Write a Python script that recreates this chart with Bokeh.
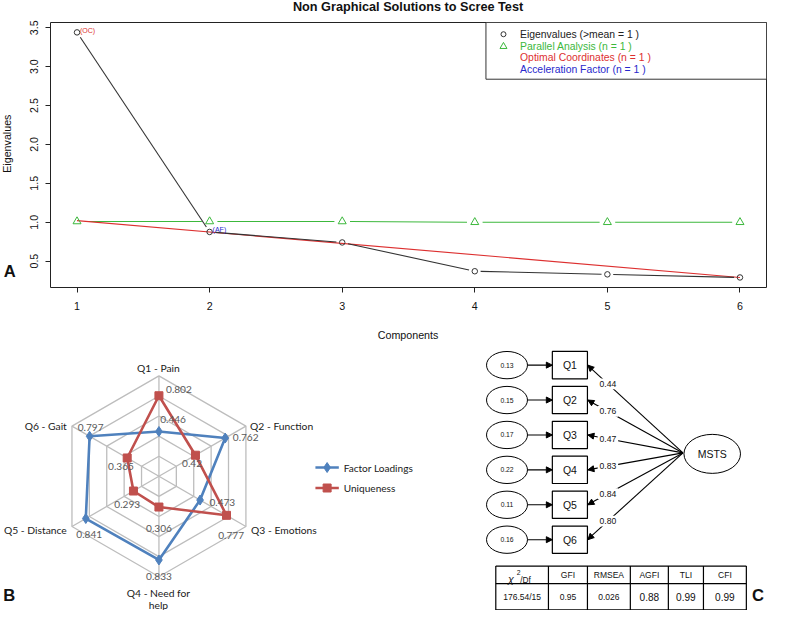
import math
from bokeh.plotting import figure
from bokeh.models import Range1d, Arrow, NormalHead, FixedTicker, NumeralTickFormatter
from bokeh.layouts import column, row
from bokeh.embed import file_html
from bokeh.resources import INLINE
from bokeh.core.properties import value

# ---------------- data ----------------
# Panel A: scree test
components = [1, 2, 3, 4, 5, 6]
eigenvalues = [3.44, 0.875, 0.74, 0.37, 0.33, 0.29]
parallel_analysis = [1.01, 1.01, 1.01, 1.00, 1.00, 1.00]
optimal_coord_x = [1, 6]
optimal_coord_y = [1.02, 0.29]
y_ticks = [0.5, 1.0, 1.5, 2.0, 2.5, 3.0, 3.5]
scree_legend = ["Eigenvalues (>mean  =  1 )", "Parallel Analysis (n =  1 )",
                "Optimal Coordinates (n =  1 )", "Acceleration Factor (n =  1 )"]

# Panel B: radar
questions = ["Q1 - Pain", "Q2 - Function", "Q3 - Emotions", "Q4 - Need for\nhelp",
             "Q5 - Distance", "Q6 - Gait"]
factor_loadings = [0.446, 0.762, 0.473, 0.833, 0.841, 0.797]
uniqueness = [0.802, 0.42, 0.777, 0.306, 0.293, 0.365]
grid_levels = [0.2, 0.4, 0.6, 0.8, 1.0]
radar_legend = ["Factor Loadings", "Uniqueness"]

# Panel C: SEM path diagram
items = ["Q1", "Q2", "Q3", "Q4", "Q5", "Q6"]
error_variances = [0.13, 0.15, 0.17, 0.22, 0.11, 0.16]
sem_loadings = [0.44, 0.76, 0.47, 0.83, 0.84, 0.80]
fit_headers = ["GFI", "RMSEA", "AGFI", "TLI", "CFI"]
fit_values = ["176.54/15", "0.95", "0.026", "0.88", "0.99", "0.99"]

S = 0.975


def fs(px):
    return f"{px * S:.1f}px"


ARIAL = value("Liberation Sans")
CAL = value("Lato")
INK = "#111111"


def blank(width, height, x0, x1, y0, y1):
    """figure whose whole canvas is the frame; y grows downwards (original pixel units)"""
    f = figure(width=width, height=height, x_range=Range1d(x0, x1),
               y_range=Range1d(y1, y0), x_axis_type=None, y_axis_type=None,
               output_backend="svg", toolbar_location=None, min_border=0)
    f.grid.visible = False
    f.outline_line_color = None
    f.background_fill_color = "white"
    f.border_fill_color = "white"
    return f


# ================= Panel A =================
TOP_H, MID_H, BOT_H = 15, 303, 28
LEFT_W = 20
y_top_end = TOP_H / S
y_mid_end = y_top_end + MID_H / S
y_bot_end = y_mid_end + BOT_H / S

title_fig = blank(771, TOP_H, 0, 771 / S, 0, y_top_end)
title_fig.text([418], [7], text=["Non Graphical Solutions to Scree Test"],
               text_align="center", text_baseline="middle", text_font=ARIAL,
               text_font_style="bold", text_font_size=fs(13), text_color=INK)

left_fig = blank(LEFT_W, MID_H, 0, LEFT_W / S, y_top_end, y_mid_end)
left_fig.text([7], [157.5], text=["Eigenvalues"], angle=math.pi / 2, text_align="center",
              text_baseline="middle", text_font=ARIAL, text_font_size=fs(11), text_color=INK)
left_fig.text([9.5], [307.5], text=["A"], text_align="center", text_baseline="middle",
              text_font=ARIAL, text_font_style="bold", text_font_size=fs(17), text_color=INK)

bottom_fig = blank(771, BOT_H, 0, 771 / S, y_mid_end, y_bot_end)
bottom_fig.text([418], [343], text=["Components"], text_align="center",
                text_baseline="middle", text_font=ARIAL, text_font_size=fs(11), text_color=INK)

X0, X1 = 0.8, 6.2
Y0, Y1 = 0.161, 3.567
PXX = (786 - 51) / (X1 - X0)
PXY = (294 - 23) / (Y1 - Y0)


def ax(X):
    return X0 + (X - 51) / PXX


def ay(Y):
    return Y1 - (Y - 23) / PXY


p1 = figure(width=771 - LEFT_W, height=MID_H, x_range=Range1d(X0, X1), y_range=Range1d(Y0, Y1),
            output_backend="svg", toolbar_location=None,
            min_border_left=30, min_border_right=5, min_border_top=7, min_border_bottom=31)
p1.grid.visible = False
p1.outline_line_color = "#222222"
p1.outline_line_width = 1
p1.background_fill_color = "white"
p1.border_fill_color = "white"
p1.xaxis.ticker = FixedTicker(ticks=components)
p1.yaxis.ticker = FixedTicker(ticks=y_ticks)
p1.yaxis.formatter = NumeralTickFormatter(format="0.0")
p1.yaxis.major_label_orientation = "vertical"
for a in (p1.xaxis, p1.yaxis):
    a.axis_line_color = None
    a.major_tick_in = 0
    a.major_tick_out = 5
    a.major_tick_line_color = "#222222"
    a.minor_tick_line_color = None
    a.major_label_text_font = "Liberation Sans"
    a.major_label_text_font_size = fs(11)
    a.major_label_text_color = INK
p1.xaxis.major_label_standoff = 9
p1.yaxis.major_label_standoff = 7


def gapped(xs, ys, gap):
    x0s, y0s, x1s, y1s = [], [], [], []
    for i in range(len(xs) - 1):
        dx = xs[i + 1] - xs[i]
        dy = ys[i + 1] - ys[i]
        L = math.hypot(dx * PXX, dy * PXY)
        if L <= 2 * gap:
            continue
        f = gap / L
        x0s.append(xs[i] + dx * f)
        y0s.append(ys[i] + dy * f)
        x1s.append(xs[i + 1] - dx * f)
        y1s.append(ys[i + 1] - dy * f)
    return x0s, y0s, x1s, y1s


GREEN = "#3cb83c"
RED = "#dd3030"
BLUE = "#2828cc"
BLACK = "#333333"

gx0, gy0, gx1, gy1 = gapped(components, parallel_analysis, 8)
p1.segment(gx0, gy0, gx1, gy1, line_color=GREEN, line_width=1.1)
p1.line(optimal_coord_x, optimal_coord_y, line_color=RED, line_width=1.1)
ex0, ey0, ex1, ey1 = gapped(components, eigenvalues, 6)
p1.segment(ex0, ey0, ex1, ey1, line_color=BLACK, line_width=1.1)
p1.scatter(components, parallel_analysis, marker="triangle", size=8, fill_color=None,
           line_color=GREEN, line_width=1)
p1.scatter(components, eigenvalues, marker="circle", size=5.5, fill_color=None,
           line_color=BLACK, line_width=1)
p1.text([components[0]], [eigenvalues[0]], text=["(OC)"], text_color=RED,
        text_font=ARIAL, text_font_size=fs(7.2), text_align="left", text_baseline="middle",
        x_offset=3, y_offset=-1.5)
p1.text([components[1]], [eigenvalues[1]], text=["(AF)"], text_color=BLUE,
        text_font=ARIAL, text_font_size=fs(7.2), text_align="left", text_baseline="middle",
        x_offset=3, y_offset=-2.5)

# legend box
p1.quad(left=[ax(498)], right=[X1], top=[Y1], bottom=[ay(81)], fill_color="white",
        line_color="#333333", line_width=1)
leg_rows = [35, 47.5, 59.3, 71]
p1.scatter([ax(516)], [ay(leg_rows[0])], marker="circle", size=5, fill_color=None,
           line_color=BLACK, line_width=1)
p1.scatter([ax(516)], [ay(leg_rows[1])], marker="triangle", size=7, fill_color=None,
           line_color=GREEN, line_width=1)
p1.text([ax(533)] * 4, [ay(r) for r in leg_rows], text=scree_legend,
        text_color=["#222222", GREEN, RED, BLUE], text_font=ARIAL, text_font_size=fs(10.7),
        text_align="left", text_baseline="middle")

# ================= Panel B =================
CX, CY, R = 162.5, 488.0, 103.0


def rx(X):
    return (X - CX) / R


def ry(Y):
    return (CY - Y) / R


p2 = figure(width=455, height=264, x_range=Range1d(rx(0), rx(466.67)),
            y_range=Range1d(ry(625.6), ry(354.9)), x_axis_type=None, y_axis_type=None,
            output_backend="svg", toolbar_location=None, min_border=0)
p2.grid.visible = False
p2.outline_line_color = None
p2.background_fill_color = "white"

angles = [math.pi / 2 - i * math.pi / 3 for i in range(6)]
closed = angles + [angles[0]]
GRID = "#bdbdbd"
p2.multi_line([[lv * math.cos(a) for a in closed] for lv in grid_levels],
              [[lv * math.sin(a) for a in closed] for lv in grid_levels],
              line_color=GRID, line_width=1.3)
p2.segment([0] * 6, [0] * 6, [math.cos(a) for a in angles], [math.sin(a) for a in angles],
           line_color=GRID, line_width=1.3)

FL = "#4f81bd"
UQ = "#c0504d"
bx = [v * math.cos(a) for v, a in zip(factor_loadings, angles)]
by = [v * math.sin(a) for v, a in zip(factor_loadings, angles)]
ux = [v * math.cos(a) for v, a in zip(uniqueness, angles)]
uy = [v * math.sin(a) for v, a in zip(uniqueness, angles)]
p2.line(bx + [bx[0]], by + [by[0]], line_color=FL, line_width=2.6)
p2.scatter(bx, by, marker="diamond", size=10, fill_color=FL, line_color=FL)
p2.line(ux + [ux[0]], uy + [uy[0]], line_color=UQ, line_width=2.6)
p2.scatter(ux, uy, marker="square", size=8, fill_color=UQ, line_color=UQ)

blue_off = [(14.5, -12), (21, -1), (22.8, 2.6), (0, 17), (3.5, 16.7), (1, -9)]
red_off = [(20.5, -6.4), (-3.5, 8.6), (4.7, 21), (0, 22.5), (-6.4, 14), (-6.4, 8.8)]
p2.text(bx, by, text=[f"{v:g}" for v in factor_loadings],
        x_offset=[o[0] * S for o in blue_off], y_offset=[o[1] * S for o in blue_off],
        text_align="center", text_baseline="middle", text_font=CAL, text_font_size=fs(10.4),
        text_color="#595959")
p2.text(ux, uy, text=[f"{v:g}" for v in uniqueness],
        x_offset=[o[0] * S for o in red_off], y_offset=[o[1] * S for o in red_off],
        text_align="center", text_baseline="middle", text_font=CAL, text_font_size=fs(10.4),
        text_color="#595959")

cat_pos = [(162, 377, "center", "middle"), (256, 436, "left", "middle"),
           (257, 543, "left", "middle"), (162, 601, "center", "top"),
           (68, 543, "right", "middle"), (68, 436, "right", "middle")]
for q, (X, Y, al, bl) in zip(questions, cat_pos):
    p2.text([rx(X)], [ry(Y)], text=[q], text_align=al, text_baseline=bl, text_font=CAL,
            text_font_size=fs(10.6), text_color="#1a1a1a", text_line_height=1.05)

for (Y, col, mk, sz) in [(479, FL, "diamond", 10), (500, UQ, "square", 8)]:
    p2.line([rx(323), rx(347)], [ry(Y), ry(Y)], line_color=col, line_width=2.6)
    p2.scatter([rx(335)], [ry(Y)], marker=mk, size=sz, fill_color=col, line_color=col)
p2.text([rx(352), rx(352)], [ry(479), ry(500)], text=radar_legend, text_align="left",
        text_baseline="middle", text_font=CAL, text_font_size=fs(10.4), text_color="#1a1a1a")
p2.text([rx(9)], [ry(610)], text=["B"], text_align="center", text_baseline="middle",
        text_font=ARIAL, text_font_style="bold", text_font_size=fs(17), text_color=INK)

# ================= Panel C =================
p3 = blank(316, 264, 466.67, 790.8, 354.9, 625.6)

node_y = [374 + 35.8 * i for i in range(len(items))]
EX, BXC, BXR = 519.5, 584.0, 602.0
MX, MY = 730.0, 465.0
CONV = (700.0, 464.0)

p3.ellipse(x=[EX] * 6, y=node_y, width=42, height=28, fill_color="white",
           line_color="black", line_width=1)
p3.text([EX] * 6, node_y, text=[f"{v:.2f}" for v in error_variances], text_align="center",
        text_baseline="middle", text_font=ARIAL, text_font_size=fs(7), text_color=INK)
for y in node_y:
    p3.add_layout(Arrow(end=NormalHead(size=6, fill_color="black", line_color="black",
                                       line_width=1),
                        x_start=540.5, y_start=y, x_end=566, y_end=y,
                        line_color="black", line_width=1.1))
p3.rect(x=[BXC] * 6, y=node_y, width=36, height=28, fill_color="white",
        line_color="black", line_width=1.2)
p3.text([BXC] * 6, node_y, text=items, text_align="center", text_baseline="middle",
        text_font=ARIAL, text_font_size=fs(10.8), text_color=INK)

p3.segment([CONV[0]] * 6, [CONV[1]] * 6, [BXR] * 6, node_y, line_color="black",
           line_width=1.1)
LX = 623.0
lab_y = [CONV[1] + (y - CONV[1]) * (CONV[0] - LX) / (CONV[0] - BXR) for y in node_y]
p3.rect(x=[LX] * 6, y=lab_y, width=21, height=11, fill_color="white", line_color=None)
p3.text([LX] * 6, lab_y, text=[f"{v:.2f}" for v in sem_loadings], text_align="center",
        text_baseline="middle", text_font=ARIAL, text_font_size=fs(8.8), text_color=INK)
for y in node_y:
    dx, dy = CONV[0] - BXR, CONV[1] - y
    L = math.hypot(dx, dy)
    p3.add_layout(Arrow(end=NormalHead(size=6, fill_color="black", line_color="black",
                                       line_width=1),
                        x_start=BXR + dx / L * 7, y_start=y + dy / L * 7, x_end=BXR + 0.5,
                        y_end=y, line_color="black", line_width=1.1))

p3.ellipse(x=[MX], y=[MY], width=58, height=40, fill_color="white", line_color="black",
           line_width=1)
p3.text([MX], [MY], text=["MSTS"], text_align="center", text_baseline="middle",
        text_font=ARIAL, text_font_size=fs(10.8), text_color=INK)

col_edges = [508, 562, 602, 646, 685, 721, 765]
row_edges = [580, 598, 625]
p3.multi_line([[col_edges[0], col_edges[-1]] for _ in row_edges], [[r, r] for r in row_edges],
              line_color="black", line_width=1.2)
p3.multi_line([[c, c] for c in col_edges], [[row_edges[0], row_edges[-1]] for _ in col_edges],
              line_color="black", line_width=1.2)
mids = [(col_edges[i] + col_edges[i + 1]) / 2 for i in range(len(col_edges) - 1)]
hy = (row_edges[0] + row_edges[1]) / 2
vy = (row_edges[1] + row_edges[2]) / 2
p3.text([520.5], [593.5], text=["χ"], text_align="left", text_baseline="alphabetic",
        text_font=ARIAL, text_font_style="italic", text_font_size=fs(11), text_color=INK)
p3.text([529.5], [587], text=["2"], text_align="left", text_baseline="alphabetic",
        text_font=ARIAL, text_font_size=fs(7), text_color=INK)
p3.text([533], [594], text=["/Df"], text_align="left", text_baseline="alphabetic",
        text_font=ARIAL, text_font_size=fs(8.5), text_color=INK)
p3.text(mids[1:], [hy] * 5, text=fit_headers, text_align="center", text_baseline="middle",
        text_font=ARIAL, text_font_size=fs(8.7), text_color=INK)
p3.text(mids[:3], [vy] * 3, text=fit_values[:3], text_align="center", text_baseline="middle",
        text_font=ARIAL, text_font_size=fs(8.7), text_color=INK)
p3.text(mids[3:], [vy] * 3, text=fit_values[3:], text_align="center", text_baseline="middle",
        text_font=ARIAL, text_font_size=fs(10.4), text_color=INK)
p3.text([777], [610], text=["C"], text_align="center", text_baseline="middle",
        text_font=ARIAL, text_font_style="bold", text_font_size=fs(17), text_color=INK)

layout = column(title_fig, row(left_fig, p1), bottom_fig, row(p2, p3))
open("out.html", "w").write(file_html(layout, INLINE))
